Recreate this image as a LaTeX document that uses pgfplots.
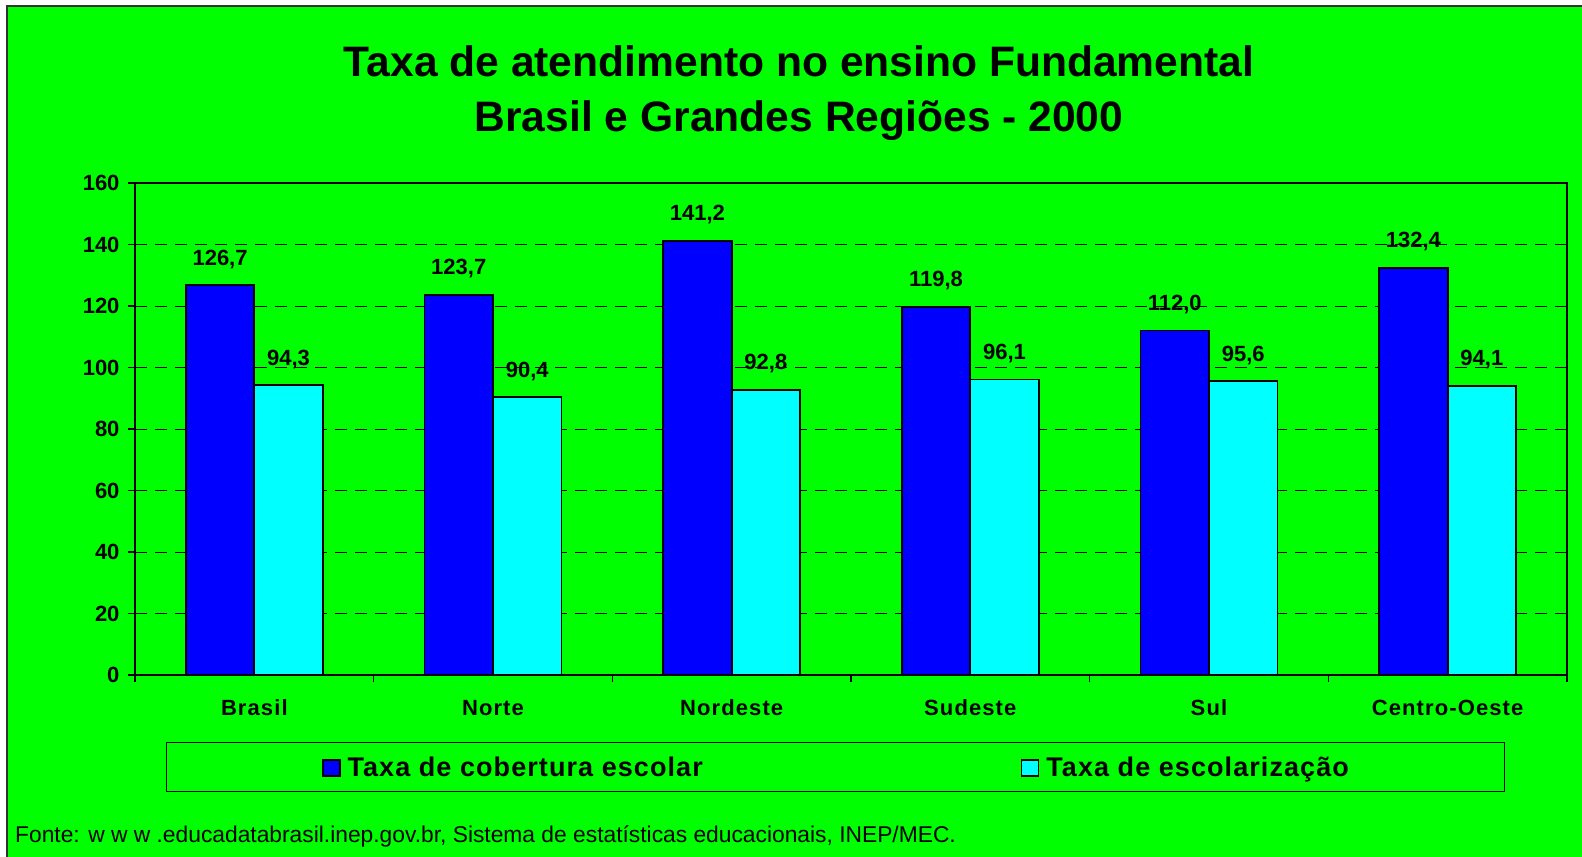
\documentclass[border=0pt]{standalone}
\usepackage{pgfplots}
\usepackage{pgfplotstable}
\pgfplotsset{compat=1.18}
\usepackage{fontspec}
\setmainfont{Liberation Sans}
\definecolor{bg}{RGB}{0,255,0}
\definecolor{barblue}{RGB}{0,0,255}
\definecolor{barcyan}{RGB}{0,255,255}

\pgfplotstableread{
x a b
0 126.7 94.3
1 123.7 90.4
2 141.2 92.8
3 119.8 96.1
4 112.0 95.6
5 132.4 94.1
}\datatable

\begin{document}
\begin{tikzpicture}
\fill[white] (0,0) rectangle (1582bp,857bp);
\fill[bg] (7bp,0) rectangle (1582bp,851bp);
\draw[black!80, line width=1.5bp] (7bp,0) -- (7bp,851bp) -- (1582bp,851bp);
\node[anchor=base, inner sep=0pt, font=\fontsize{42.6bp}{51bp}\selectfont\bfseries] at (799bp,780bp) {Taxa de atendimento no ensino Fundamental};
\node[anchor=base, inner sep=0pt, font=\fontsize{42.6bp}{51bp}\selectfont\bfseries] at (799bp,725bp) {Brasil e Grandes Regiões - 2000};
\node[anchor=base west, inner sep=0pt, font=\fontsize{22.8bp}{27bp}\selectfont] at (15bp,15bp) {Fonte: w w w .educadatabrasil.inep.gov.br, Sistema de estatísticas educacionais, INEP/MEC.};
\begin{axis}[
  at={(135bp,182bp)}, anchor=south west,
  width=1432bp, height=492bp, scale only axis,
  xmin=-0.5, xmax=5.5, ymin=0, ymax=160,
  ybar=0pt, bar width=68.5bp,
  /pgf/number format/assume math mode=true,
  axis line style={black, line width=1.8bp},
  tick style={black, line width=1.2bp},
  tick align=outside,
  xtick pos=lower, ytick pos=left,
  xtick={0,1,2,3,4,5},
  xticklabels={Brasil,Norte,Nordeste,Sudeste,Sul,Centro-Oeste},
  major x tick style={draw=none},
  minor xtick={-0.5,0.5,1.5,2.5,3.5,4.5,5.5},
  minor tick length=7bp,
  ytick={0,20,...,160},
  major tick length=7bp,
  ymajorgrids,
  major grid style={black, line width=0.9bp, dash pattern=on 12bp off 8bp},
  xticklabel style={font=\fontsize{22bp}{26bp}\selectfont\bfseries\addfontfeatures{LetterSpace=5}, anchor=base, yshift=-34bp},
  yticklabel style={font=\fontsize{22bp}{26bp}\selectfont\bfseries, anchor=east, xshift=-5bp},
  nodes near coords={\pgfmathprintnumber[fixed,fixed zerofill,precision=1,use comma]{\pgfplotspointmeta}},
  every node near coord/.append style={anchor=base, yshift=20bp, font=\fontsize{22bp}{26bp}\selectfont\bfseries, black},
  legend columns=2,
  legend style={at={(0.4892,-0.187)}, anchor=center, draw=black, line width=1bp, fill=bg,
    font=\fontsize{27bp}{31bp}\selectfont\bfseries\addfontfeatures{LetterSpace=4},
    nodes={inner xsep=0pt},
    inner xsep=156bp, inner ysep=12bp,
    /tikz/every odd column/.append style={column sep=7bp},
    /tikz/every even column/.append style={column sep=318bp}},
]
\addplot[fill=barblue, draw=black, line width=1.8bp,
  legend image code/.code={\draw[fill=barblue, draw=black, line width=1.5bp] (0bp,-9bp) rectangle (17bp,7bp);}]
  table[x=x, y=a] {\datatable};
\addlegendentry{Taxa de cobertura escolar}
\addplot[fill=barcyan, draw=black, line width=1.8bp,
  legend image code/.code={\draw[fill=barcyan, draw=black, line width=1.5bp] (0bp,-9bp) rectangle (17bp,7bp);}]
  table[x=x, y=b] {\datatable};
\addlegendentry{Taxa de escolarização}
\end{axis}
\pgfresetboundingbox
\path[use as bounding box] (0,0) rectangle (1582bp,857bp);
\end{tikzpicture}
\end{document}
